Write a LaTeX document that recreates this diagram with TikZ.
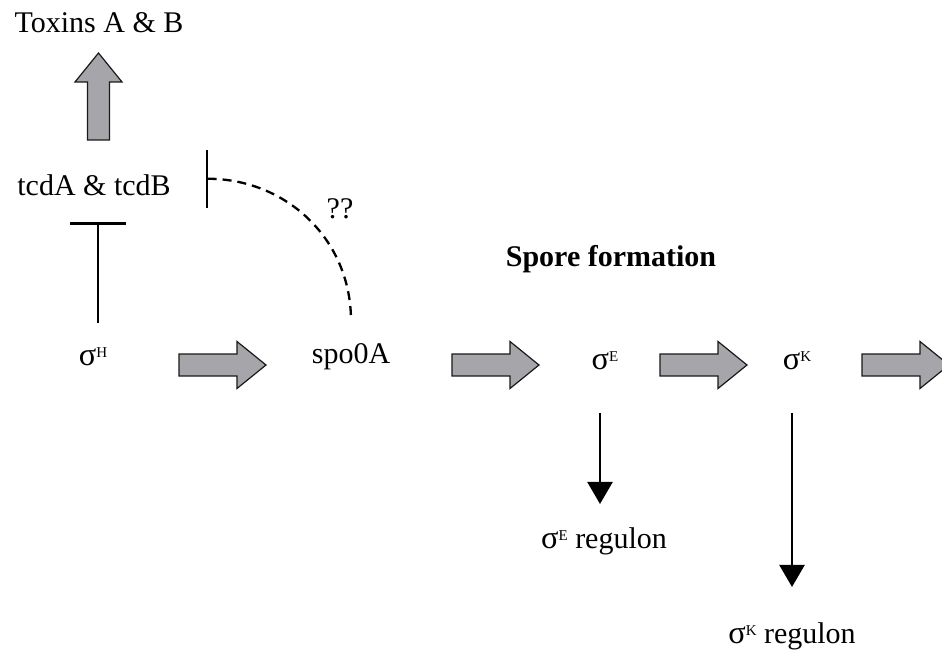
\documentclass[tikz,border=0pt]{standalone}
\usepackage{fontspec}
\setmainfont{Liberation Serif}
\usetikzlibrary{positioning,arrows.meta}

\definecolor{arrowgray}{RGB}{166,166,170}
\newcommand{\sig}[1]{\scalebox{1.08}{σ}\raisebox{0.55ex}{\fontsize{15}{15}\selectfont #1}}

\tikzset{
  txt/.style={font=\fontsize{30}{35}\selectfont, inner sep=2pt, anchor=base},
  blockarr/.pic={
    \draw[fill=arrowgray, draw=black!90, line width=1.2pt]
      (0,-11) -- (58,-11) -- (58,-23.5) -- (87,0) -- (58,23.5) -- (58,11) -- (0,11) -- cycle;
  },
  regarrow/.style={line width=2.3pt, -{Triangle[length=22pt,width=25pt]}},
  inhib/.style={line width=2.3pt, -{Bar[width=56pt]}},
}

\begin{document}
\begin{tikzpicture}[x=1pt, y=-1pt]
  \useasboundingbox (0,0) rectangle (942,650);
  \clip (0,0) rectangle (942,650);

  % labels
  \node[txt] (toxins) at (99,33)  {Toxins A \& B};
  \node[txt] (tcd)    at (94,195) {tcdA \& tcdB};
  \node[txt] (qq)     at (340,218) {??};
  \node[txt, font=\fontsize{30}{35}\selectfont\bfseries] (spore) at (611,266) {Spore formation};
  \node[txt] (sigH)   at (93,365) {\sig{H}};
  \node[txt] (spo)    at (351,363) {spo0A};
  \node[txt] (sigE)   at (605,369) {\sig{E}};
  \node[txt] (sigK)   at (797,369) {\sig{K}};
  \node[txt] (regE)   at (604,548) {\sig{E} regulon};
  \node[txt] (regK)   at (792,643) {\sig{K} regulon};

  % block arrows
  \pic[rotate=90] at (98.5,140) {blockarr};
  \pic at (179,365) {blockarr};
  \pic at (452,365) {blockarr};
  \pic at (660,365) {blockarr};
  \pic at (862,365) {blockarr};

  % repression
  \draw[inhib] ([xshift=5pt,yshift=22pt]sigH.north) -- ([xshift=4pt,yshift=-25pt]tcd.south);
  \draw[line width=2.3pt, {Bar[width=58pt]}-, dash pattern=on 9pt off 6pt]
    ([xshift=33pt,yshift=6pt]tcd.east) .. controls +(80,0) and +(0,-82) .. ([yshift=20pt]spo.north);

  % regulons
  \draw[regarrow] ([xshift=-5pt,yshift=-41pt]sigE.south) -- ([xshift=-4pt,yshift=21pt]regE.north);
  \draw[regarrow] ([xshift=-5pt,yshift=-41pt]sigK.south) -- ([yshift=33pt]regK.north);
\end{tikzpicture}
\end{document}
